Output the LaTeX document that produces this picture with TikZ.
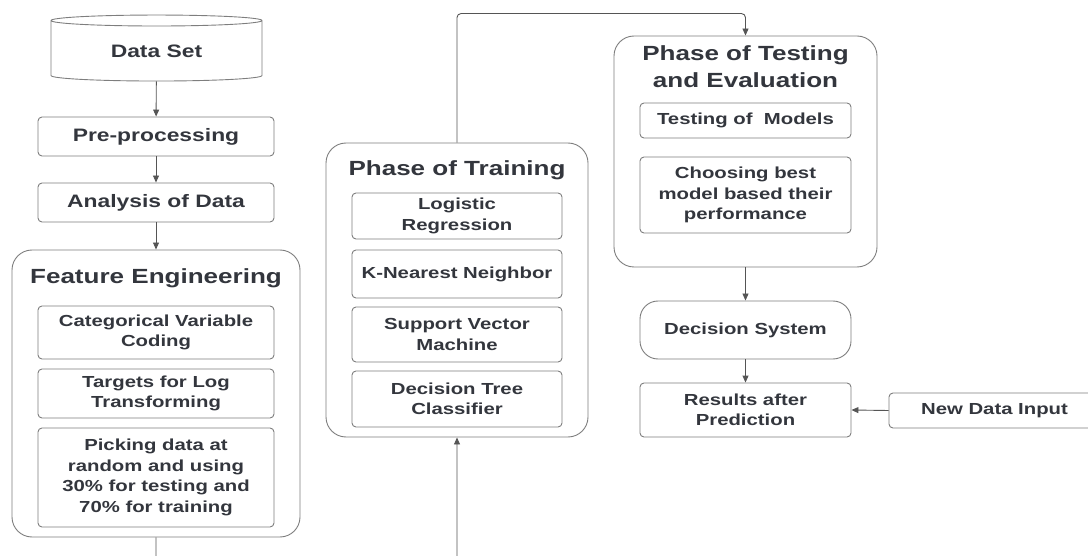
\documentclass[tikz,border=0pt]{standalone}
\usepackage{fontspec}
\setsansfont{Liberation Sans}[FakeStretch=1.27, BoldFont={Liberation Sans Bold}]
\usepackage{tikz}
\usetikzlibrary{arrows.meta,shapes.geometric}
\usepackage{xcolor}
\definecolor{inkgray}{HTML}{33363D}
\definecolor{rimgray}{HTML}{7E7E7E}
\definecolor{wiregray}{HTML}{555555}

\begin{document}
\begin{tikzpicture}[x=1pt, y=1pt,
  every node/.style={text=inkgray, font=\sffamily\bfseries, align=center},
  box/.style={rectangle, draw=rimgray, line width=0.9pt, rounded corners=4pt, inner sep=0pt},
  frame/.style={rectangle, draw=rimgray, line width=0.9pt, rounded corners=20pt, inner sep=0pt},
  small/.style={font=\sffamily\bfseries\fontsize{16}{20.5}\selectfont},
  mid/.style={font=\sffamily\bfseries\fontsize{18}{22}\selectfont},
  big/.style={font=\sffamily\bfseries\fontsize{20.5}{27}\selectfont},
  flow/.style={draw=wiregray, line width=0.9pt, -{Triangle[length=7pt,width=6pt]}}
]
\useasboundingbox (0,0) rectangle (1088,-556);
\clip (0,0) rectangle (1088,-556);

% left column
\node[cylinder, shape border rotate=90, aspect=0.12, draw=rimgray, line width=0.9pt,
  minimum width=211pt, minimum height=66pt, inner sep=0pt, mid] (dataset) at (156.5,-51) {Data Set};
\node[box, mid, minimum width=236pt, minimum height=39pt] (prep) at (156,-136.5) {Pre-processing};
\node[box, mid, minimum width=236pt, minimum height=39pt] (analysis) at (156,-202.5) {Analysis of Data};

\node[frame, minimum width=288pt, minimum height=287pt] (feat) at (156,-393.5) {};
\node[big] (featTitle) at (156,-278) {Feature Engineering};
\node[box, small, minimum width=236pt, minimum height=53pt] (catcode) at (156,-332.5) {Categorical Variable\\Coding};
\node[box, small, minimum width=236pt, minimum height=49pt] (logtrans) at (156,-393.5) {Targets for Log\\Transforming};
\node[box, small, minimum width=236pt, minimum height=99pt] (split) at (156,-477.5) {Picking data at\\random and using\\30\% for testing and\\70\% for training};

% training
\node[frame, minimum width=262pt, minimum height=294pt] (train) at (457,-290) {};
\node[big] (trainTitle) at (457,-170) {Phase of Training};
\node[box, small, minimum width=210pt, minimum height=46pt] (logreg) at (457,-216) {Logistic\\Regression};
\node[box, small, minimum width=210pt, minimum height=48pt] (knn) at (457,-274) {K-Nearest Neighbor};
\node[box, small, minimum width=210pt, minimum height=55pt] (svm) at (457,-334.5) {Support Vector\\Machine};
\node[box, small, minimum width=210pt, minimum height=56pt] (dtree) at (457,-399) {Decision Tree\\Classifier};

% testing and evaluation
\node[frame, minimum width=263pt, minimum height=231pt] (test) at (745.5,-151.5) {};
\node[big] (testTitle) at (745.5,-67) {Phase of Testing\\and Evaluation};
\node[box, small, minimum width=211pt, minimum height=35pt] (testmod) at (745.5,-120.5) {Testing of~~Models};
\node[box, small, minimum width=211pt, minimum height=76pt] (bestmod) at (745.5,-195) {Choosing best\\model based their\\performance};

\node[box, small, rounded corners=18pt, minimum width=211pt, minimum height=58pt] (decision) at (745.5,-330) {Decision System};
\node[box, small, minimum width=211pt, minimum height=54pt] (results) at (745.5,-410) {Results after\\Prediction};
\node[box, small, minimum width=211pt, minimum height=35pt] (newdata) at (994.5,-410.5) {New Data Input};

% connectors
\draw[flow] (dataset) -- (prep);
\draw[flow] (prep) -- (analysis);
\draw[flow] (analysis) -- (feat);
\draw[flow, rounded corners=4pt] (feat.south) -- ++(0,-40) -| (train.south);
\draw[flow, rounded corners=4pt] (train.north) |- ([yshift=22pt]test.north) -- (test.north);
\draw[flow] (test) -- (decision);
\draw[flow] (decision) -- (results);
\draw[flow] (newdata.west) -- (results.east);
\end{tikzpicture}
\end{document}
